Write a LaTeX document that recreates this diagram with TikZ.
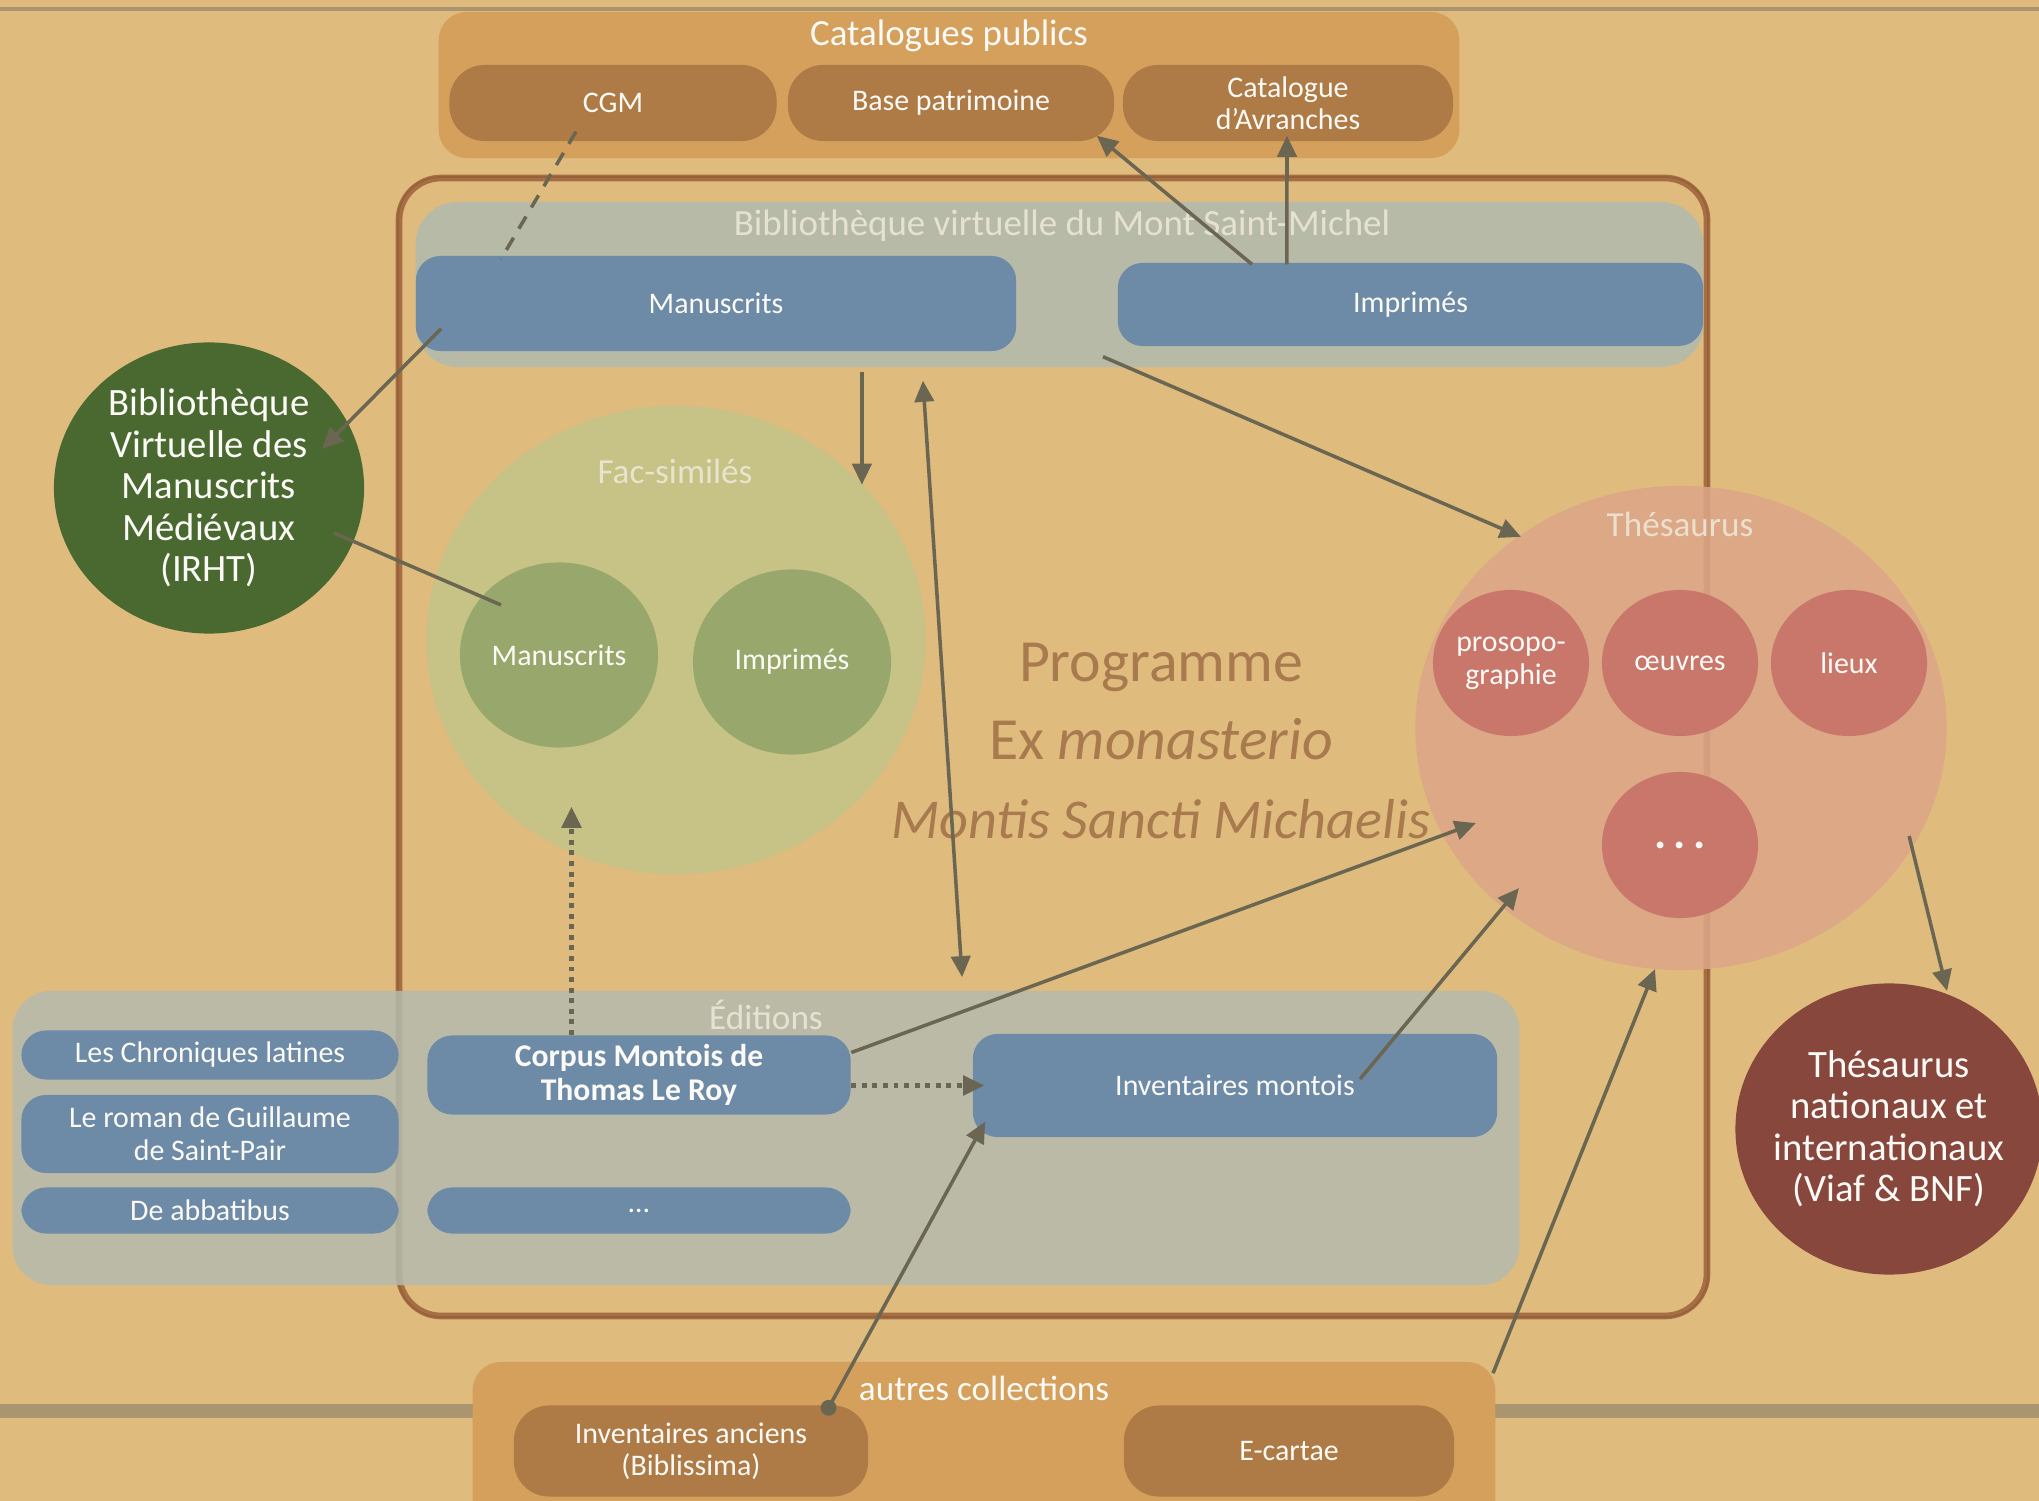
\documentclass[tikz,border=0pt]{standalone}
\usepackage{fontspec}
\setmainfont{Carlito}
\usetikzlibrary{arrows.meta,shapes.geometric}
\definecolor{bgc}{HTML}{DFBB7E}
\definecolor{linec}{HTML}{AB9470}
\definecolor{catc}{HTML}{D4A05B}
\definecolor{brownc}{HTML}{AE7B46}
\definecolor{framec}{HTML}{A66E42}
\definecolor{grayc}{HTML}{B4BAAD}
\definecolor{bluec}{HTML}{6D8AA6}
\definecolor{greenc}{HTML}{4A6930}
\definecolor{facc}{HTML}{C6C386}
\definecolor{facin}{HTML}{98A76B}
\definecolor{progc}{HTML}{A87A4E}
\definecolor{thesc}{HTML}{DCA688}
\definecolor{thesin}{HTML}{C8776A}
\definecolor{natc}{HTML}{88473C}
\definecolor{arrc}{HTML}{6A6652}
\definecolor{lighttxt}{HTML}{EEEADB}
\definecolor{whitetxt}{HTML}{FBFAF6}
\newcommand{\fsz}[2]{\fontsize{#1pt}{#2pt}\selectfont}
\begin{document}
\begin{tikzpicture}[x=0.01cm,y=-0.01cm,
  every node/.style={inner sep=0pt,align=center},
  ttlw/.style={text=whitetxt,font=\fsz{10.5}{12}},
  ttll/.style={text=lighttxt,text opacity=0.85,font=\fsz{10.5}{12}},
  brownbox/.style={rectangle,rounded corners=10pt,fill=brownc,text=whitetxt,font=\fsz{8.5}{9},minimum height=0.76cm},
  bluebox/.style={rectangle,rounded corners=7pt,fill=bluec,text=whitetxt,font=\fsz{8.5}{9.3}},
  disc/.style={ellipse,draw=none},
  lbl/.style={text=whitetxt,font=\fsz{8.5}{9.3},align=center,inner sep=0pt},
  biglbl/.style={text=whitetxt,font=\fsz{11}{11.8},align=center,inner sep=0pt},
  conn/.style={draw=arrc,line width=1pt},
  arr/.style={conn,-{Triangle[length=6pt,width=5.5pt]}},
  dotconn/.style={conn,line width=1.3pt,dash pattern=on 1.4pt off 1.6pt,-{Triangle[length=6pt,width=5.5pt]}}
]
% background
\fill[bgc] (0,0) rectangle (2039,1501);
\path[use as bounding box] (0,0) rectangle (2039,1501);
\draw[linec,line width=0.9pt] (0,9) -- (2039,9);
\fill[linec] (0,1404) rectangle (2039,1418);

% Catalogues publics
\node[rectangle,rounded corners=8pt,fill=catc,minimum width=10.2cm,minimum height=1.46cm] (cat) at (949,85) {};
\node[ttlw] (catT) at (949,36) {Catalogues publics};
\node[brownbox,minimum width=3.27cm] (cgm) at (613,103) {CGM};
\node[brownbox,minimum width=3.26cm] (base) at (951,103) {Base patrimoine};
\node[brownbox,minimum width=3.3cm] (avr) at (1288,103) {Catalogue\\d'Avranches};

% frame
\draw[framec,line width=1.9pt,rounded corners=12pt] (399,178) rectangle (1707,1316);
\draw[framec!80!black,line width=0.5pt,opacity=0.5,rounded corners=12pt] (398,177) rectangle (1708,1317);

% Bibliotheque virtuelle
\node[rectangle,rounded corners=12pt,fill=grayc,fill opacity=0.9,minimum width=12.87cm,minimum height=1.65cm] (bv) at (1059.5,284.5) {};
\node[ttll] (bvT) at (1062,226) {Bibliothèque virtuelle du Mont Saint-Michel};
\node[bluebox,minimum width=6.0cm,minimum height=0.95cm] (man) at (716,303.5) {Manuscrits};
\node[bluebox,minimum width=5.85cm,minimum height=0.83cm] (imp) at (1410.5,304.5) {Imprimés};

% BVMM
\node[disc,fill=greenc,minimum width=3.10cm,minimum height=2.91cm,label={[biglbl]center:Bibliothèque\\Virtuelle des\\Manuscrits\\Médiévaux\\(IRHT)}] (bvmm) at (209,488) {};

% Fac-similes
\node[disc,fill=facc,fill opacity=0.92,minimum width=4.99cm,minimum height=4.68cm] (fac) at (676,640) {};
\node[ttll,text=lighttxt,font=\fsz{10}{12}] (facT) at (675,471) {Fac-similés};
\node[disc,fill=facin,minimum width=1.98cm,minimum height=1.85cm,label={[lbl]center:Manuscrits}] (fm) at (559,655) {};
\node[disc,fill=facin,minimum width=1.98cm,minimum height=1.85cm,label={[lbl]center:Imprimés}] (fi) at (792,662) {};

% Programme
\node[text=progc,font=\fsz{17}{22.2}] (prog) at (1161,741) {Programme\\Ex \textit{monasterio}\\\textit{\fsz{16}{22.2}Montis Sancti Michaelis}};

% Thesaurus
\node[disc,fill=thesc,fill opacity=0.88,minimum width=5.31cm,minimum height=4.84cm] (thes) at (1681,728) {};
\node[ttll,font=\fsz{10}{12}] (thesT) at (1680,524) {Thésaurus};
\node[disc,fill=thesin,minimum width=1.56cm,minimum height=1.46cm,label={[lbl]center:prosopo-\\graphie}] (pros) at (1511,663) {};
\node[disc,fill=thesin,minimum width=1.56cm,minimum height=1.46cm,label={[lbl]center:œuvres}] (oeuv) at (1680,663) {};
\node[disc,fill=thesin,minimum width=1.56cm,minimum height=1.46cm,label={[lbl]center:lieux}] (lieux) at (1849,663) {};
\node[disc,fill=thesin,minimum width=1.56cm,minimum height=1.46cm,label={[lbl,font=\fsz{13}{13}\bfseries]center:.\,.\,.}] (tdots) at (1680,845) {};

% Thesaurus nationaux
\node[disc,fill=natc,minimum width=3.07cm,minimum height=2.91cm,label={[biglbl]center:Thésaurus\\nationaux et\\internationaux\\(Viaf \& BNF)}] (nat) at (1889,1129) {};

% Editions
\node[rectangle,rounded corners=11pt,fill=grayc,fill opacity=0.86,minimum width=15.06cm,minimum height=2.94cm] (edi) at (766,1138) {};
\node[ttll,font=\fsz{10}{12}] (ediT) at (766,1015) {Éditions};
\node[bluebox,minimum width=3.77cm,minimum height=0.49cm] (chron) at (210,1055) {Les Chroniques latines};
\node[bluebox,minimum width=3.77cm,minimum height=0.78cm] (roman) at (210,1134) {Le roman de Guillaume\\de Saint-Pair};
\node[bluebox,minimum width=3.77cm,minimum height=0.46cm] (abb) at (210,1210.5) {De abbatibus};
\node[bluebox,minimum width=4.23cm,minimum height=0.79cm,font=\fsz{9}{9.6}\bfseries] (corpus) at (639,1075) {Corpus Montois de\\Thomas Le Roy};
\node[bluebox,minimum width=4.23cm,minimum height=0.46cm] (edots) at (639,1210.5) {…};
\node[bluebox,minimum width=5.24cm,minimum height=1.03cm] (invm) at (1235,1085.5) {Inventaires montois};

% autres collections
\node[rectangle,rounded corners=8pt,fill=catc,minimum width=10.22cm,minimum height=1.8cm] (aut) at (984,1452) {};
\node[ttlw,font=\fsz{10}{12}] (autT) at (984,1388) {autres collections};
\node[brownbox,minimum width=3.54cm,minimum height=0.91cm] (inva) at (691,1451) {Inventaires anciens\\(Biblissima)};
\node[brownbox,minimum width=3.3cm,minimum height=0.91cm] (ecar) at (1289,1451) {E-cartae};

% connectors
\draw[conn,dash pattern=on 4pt off 3pt] ([xshift=-0.37cm,yshift=0.1cm]cgm.south) -- ([xshift=-2.15cm,yshift=-0.04cm]man.north);
\draw[arr] ([xshift=-1.585cm,yshift=-0.02cm]imp.north) -- ([xshift=-0.18cm,yshift=0.06cm]base.south east);
\draw[arr] ([xshift=-1.235cm,yshift=-0.02cm]imp.north) -- ([xshift=-0.01cm,yshift=0.06cm]avr.south);
\draw[arr] ([xshift=0.26cm,yshift=0.23cm]man.south west) -- ([shift={(1.13cm,0.39cm)}]bvmm.center);
\draw[conn] ([shift={(1.25cm,-0.45cm)}]bvmm.center) -- ([shift={(-0.58cm,0.50cm)}]fm.center);
\draw[arr] ([xshift=-1.975cm,yshift=-0.04cm]bv.south) -- ++(0,113);
\draw[conn,{Triangle[length=6pt,width=5.5pt]}-{Triangle[length=6pt,width=5.5pt]}] ([xshift=-1.365cm,yshift=-0.13cm]bv.south) -- ([xshift=1.96cm,yshift=0.13cm]edi.north);
\draw[arr] ([xshift=0.435cm,yshift=0.11cm]bv.south) -- ([shift={(-1.60cm,1.91cm)}]thes.center);
\draw[arr] ([yshift=0.225cm]corpus.east) -- ([shift={(-2.05cm,-0.95cm)}]thes.center);
\draw[arr] ([shift={(1.25cm,0.065cm)}]invm.center) -- ([shift={(-1.62cm,-1.60cm)}]thes.center);
\draw[arr] ([shift={(-0.03cm,-0.12cm)}]aut.north east) -- ([shift={(-0.26cm,-2.41cm)}]thes.center);
\draw[conn,{Circle[length=4.5pt]}-{Triangle[length=6pt,width=5.5pt]}] ([shift={(-0.44cm,-0.10cm)}]inva.north east) -- ([shift={(0.13cm,0.16cm)}]invm.south west);
\draw[dotconn] (corpus.east |- invm.west) -- ([xshift=0.12cm]invm.west);
\draw[dotconn] ([xshift=-0.675cm]corpus.north) -- ++(0,-228);
\draw[arr] ([shift={(2.28cm,-1.08cm)}]thes.center) -- ([shift={(0.58cm,1.38cm)}]nat.center);
\end{tikzpicture}
\end{document}
